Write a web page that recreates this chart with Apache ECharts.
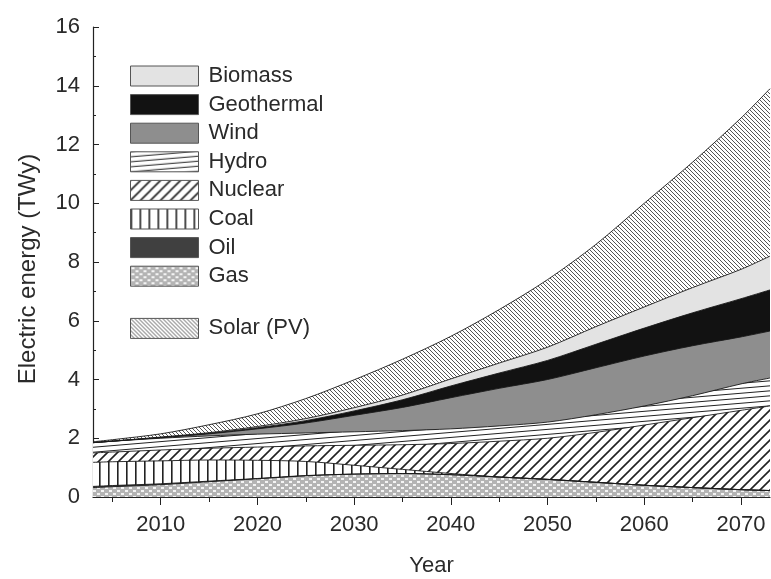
<!DOCTYPE html>
<html>
<head>
<meta charset="utf-8">
<script src="https://cdn.jsdelivr.net/npm/echarts@6/dist/echarts.min.js"></script>
<style>
  html, body { margin: 0; padding: 0; background: #fff; }
  #chart { width: 771px; height: 579px; }
</style>
</head>
<body>
<div id="chart"></div>
<script>
// Electricity supply scenario by source, stacked (TWy)
const years      = [2003, 2005, 2010, 2015, 2020, 2025, 2030, 2035, 2040, 2045, 2050, 2055, 2060, 2065, 2070, 2073];
const gas        = [0.32, 0.35, 0.42, 0.52, 0.62, 0.72, 0.78, 0.80, 0.76, 0.68, 0.60, 0.50, 0.40, 0.32, 0.25, 0.22];
const oil        = [0.04, 0.04, 0.03, 0.02, 0.01, 0.01, 0.00, 0.00, 0.00, 0.00, 0.00, 0.00, 0.00, 0.00, 0.00, 0.00];
const coal       = [0.82, 0.81, 0.78, 0.72, 0.62, 0.48, 0.30, 0.14, 0.04, 0.00, 0.00, 0.00, 0.00, 0.00, 0.00, 0.00];
const nuclear    = [0.32, 0.33, 0.37, 0.40, 0.45, 0.53, 0.68, 0.84, 1.02, 1.22, 1.40, 1.70, 2.05, 2.38, 2.70, 2.88];
const hydro      = [0.35, 0.37, 0.40, 0.42, 0.44, 0.44, 0.46, 0.48, 0.50, 0.52, 0.55, 0.60, 0.65, 0.75, 0.90, 0.95];
const wind       = [0.00, 0.00, 0.02, 0.07, 0.18, 0.34, 0.56, 0.79, 1.06, 1.28, 1.45, 1.60, 1.70, 1.70, 1.60, 1.60];
const geothermal = [0.00, 0.00, 0.01, 0.02, 0.04, 0.08, 0.15, 0.26, 0.40, 0.52, 0.65, 0.80, 0.95, 1.12, 1.30, 1.40];
const biomass    = [0.00, 0.00, 0.01, 0.02, 0.04, 0.07, 0.11, 0.16, 0.24, 0.34, 0.45, 0.60, 0.72, 0.86, 1.00, 1.15];
const solar      = [0.03, 0.05, 0.11, 0.27, 0.43, 0.68, 0.95, 1.22, 1.45, 1.82, 2.30, 2.80, 3.53, 4.27, 5.15, 5.70];

const yearTicks  = [2010, 2020, 2030, 2040, 2050, 2060, 2070];
const yearMinor  = [2005, 2015, 2025, 2035, 2045, 2055, 2065];
const legendNames = ['Biomass', 'Geothermal', 'Wind', 'Hydro', 'Nuclear', 'Coal', 'Oil', 'Gas', '\u00a0', 'Solar (PV)'];

// ---- fill patterns (canvas tiles) ----
function tile(w, h, bg, draw) {
  const c = document.createElement('canvas');
  c.width = w; c.height = h;
  const g = c.getContext('2d');
  g.fillStyle = bg; g.fillRect(0, 0, w, h);
  draw(g, w, h);
  return { image: c, repeat: 'repeat' };
}
function diag(g, s, rising) {
  // 45-degree lines that wrap seamlessly in an s x s tile
  const segs = rising
    ? [[0, s, s, 0], [-s, s, s, -s], [0, 2 * s, 2 * s, 0]]
    : [[0, 0, s, s], [-s, 0, s, 2 * s], [0, -s, 2 * s, s]];
  g.beginPath();
  segs.forEach(([a, b, c, d]) => { g.moveTo(a, b); g.lineTo(c, d); });
  g.stroke();
}
const pNuclear = tile(10, 10, '#fff', (g, w) => { g.strokeStyle = '#222'; g.lineWidth = 1.6; diag(g, w, true); });
const pSolar = tile(4, 4, '#fff', (g, w) => { g.strokeStyle = '#555'; g.lineWidth = 1; diag(g, w, false); });
const pCoal = tile(9, 4, '#fff', (g) => { g.fillStyle = '#222'; g.fillRect(0, 0, 1.6, 4); });
const pHydro = tile(60, 5, '#fff', (g, w, h) => {
  g.strokeStyle = '#222'; g.lineWidth = 1;
  g.beginPath();
  [[0, h, w, 0], [0, 2 * h, w, h], [0, 0, w, -h]].forEach(([a, b, c, d]) => { g.moveTo(a, b); g.lineTo(c, d); });
  g.stroke();
});
const pGas = tile(8, 6, '#b4b4b4', (g) => {
  g.fillStyle = '#f4f4f4';
  g.fillRect(1, 1, 3, 2);
  g.fillRect(5, 4, 3, 2);
  g.fillRect(-3, 4, 3, 2);
});
const cBiomass = '#e3e3e3';
const cGeo = '#121212';
const cWind = '#8e8e8e';
const cOil = '#404040';

// bottom-to-top order of the layers
const layers = [
  ['Gas', gas, pGas],
  ['Oil', oil, cOil],
  ['Coal', coal, pCoal],
  ['Nuclear', nuclear, pNuclear],
  ['Hydro', hydro, pHydro],
  ['Wind', wind, cWind],
  ['Geothermal', geothermal, cGeo],
  ['Biomass', biomass, cBiomass],
  ['Solar (PV)', solar, pSolar]
];
const fillOf = {};
layers.forEach(d => { fillOf[d[0]] = d[2]; });

// running totals: each layer is filled from the axis up to its own top,
// upper layers are painted first so the lower ones cover them
const running = years.map(() => 0);
const series = layers.map(([name, vals, fill]) => {
  const tops = vals.map((v, i) => (running[i] = +(running[i] + v).toFixed(4)));
  return {
    name,
    type: 'line',
    smooth: 0.3,
    showSymbol: false,
    symbol: 'none',
    data: years.map((y, i) => [y, tops[i]]),
    lineStyle: { color: '#1a1a1a', width: 0.9 },
    itemStyle: { color: '#1a1a1a' },
    areaStyle: { color: fill, opacity: 1, origin: 'start' },
    emphasis: { disabled: true },
    silent: true
  };
}).reverse();
// empty entry that only opens the spacer row in the key
series.push({ name: '\u00a0', type: 'line', data: [], silent: true });

const textFont = 'Liberation Sans, Arial, Helvetica, sans-serif';
const textColor = '#2a2a2a';

const chart = echarts.init(document.getElementById('chart'), null, { renderer: 'canvas' });
chart.setOption({
  animation: false,
  backgroundColor: '#fff',
  grid: { left: 93, right: 1, top: 27, bottom: 82, containLabel: false, outerBoundsMode: 'none' },
  legend: {
    orient: 'vertical',
    left: 125,
    top: 60,
    itemWidth: 68,
    itemHeight: 20,
    itemGap: 6.6,
    selectedMode: false,
    textStyle: { fontSize: 22, color: textColor, fontFamily: textFont, padding: [0, 0, 0, 5] },
    data: legendNames.map(n => fillOf[n]
      ? { name: n, icon: 'rect', itemStyle: { color: fillOf[n], borderColor: '#555', borderWidth: 1 } }
      : { name: n, icon: 'none', textStyle: { fontSize: 10, lineHeight: 14 } })
  },
  xAxis: [
    {
      type: 'value', min: 2003, max: 2073,
      name: 'Year', nameLocation: 'middle', nameGap: 58,
      nameTextStyle: { fontSize: 22, color: textColor, fontFamily: textFont },
      axisLine: { lineStyle: { color: '#222', width: 1.2 } },
      axisTick: { show: true, customValues: yearTicks, length: 8, lineStyle: { color: '#222' } },
      axisLabel: { customValues: yearTicks, formatter: v => String(v), fontSize: 22, color: textColor, fontFamily: textFont, margin: 17 },
      splitLine: { show: false }
    },
    {
      type: 'value', min: 2003, max: 2073, position: 'bottom',
      axisLine: { show: false },
      axisTick: { show: true, customValues: yearMinor, length: 5, lineStyle: { color: '#222' } },
      axisLabel: { show: false },
      splitLine: { show: false }
    }
  ],
  yAxis: {
    type: 'value', min: 0, max: 16, interval: 2,
    name: 'Electric energy (TWy)', nameLocation: 'middle', nameGap: 53,
    nameTextStyle: { fontSize: 24, color: textColor, fontFamily: textFont, padding: [0, 14, 0, 0] },
    axisLine: { show: true, lineStyle: { color: '#222', width: 1.2 } },
    axisTick: { show: true, inside: true, length: 6, lineStyle: { color: '#222' } },
    minorTick: { show: true, splitNumber: 2, length: 3, lineStyle: { color: '#222' } },
    axisLabel: { fontSize: 22, color: textColor, fontFamily: textFont, margin: 13 },
    splitLine: { show: false }
  },
  series: series
});
</script>
</body>
</html>
